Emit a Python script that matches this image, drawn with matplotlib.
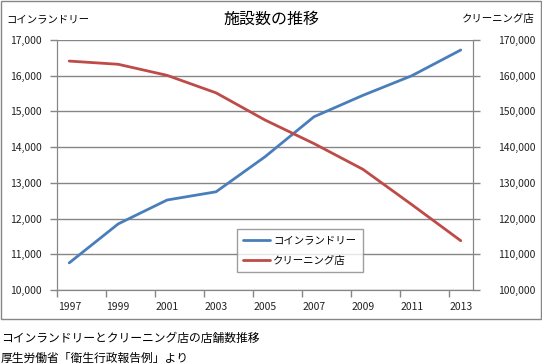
import matplotlib
matplotlib.use('Agg')
import matplotlib.ticker
from matplotlib import pyplot as plt
from matplotlib.patches import Rectangle

plt.rcParams['font.family'] = ['Noto Sans CJK JP', 'DejaVu Sans']

years = [1997, 1999, 2001, 2003, 2005, 2007, 2009, 2011, 2013]
coin_laundry = [10760, 11850, 12520, 12750, 13730, 14850, 15450, 16000, 16720]
cleaning = [164100, 163200, 160100, 155200, 147600, 141000, 133800, 123900, 113800]

title = '施設数の推移'
left_name = 'コインランドリー'
right_name = 'クリーニング店'
caption1 = 'コインランドリーとクリーニング店の店舗数推移'
caption2 = '厚生労働省「衛生行政報告例」より'

grid_color = '#868686'
blue = '#4A7EBB'
red = '#BE4B48'

fig = plt.figure(figsize=(5.42, 3.64), dpi=100)
ax1 = fig.add_axes([57 / 542, 1 - 290 / 364, (473 - 57) / 542, 250 / 364])
ax2 = ax1.twinx()

# chart frame
fig.patches.append(Rectangle((0.5 / 542, 1 - 319 / 364), 540.5 / 542, 318.5 / 364,
                             transform=fig.transFigure, fill=False, edgecolor=grid_color, lw=1))

l1, = ax1.plot(years, coin_laundry, color=blue, lw=2, solid_capstyle='round')
l2, = ax2.plot(years, cleaning, color=red, lw=2, solid_capstyle='round')

ax1.set_xlim(1996.5, 2013.5)
ax1.set_ylim(10000, 17000)
ax2.set_ylim(100000, 170000)

ax1.yaxis.set_major_locator(matplotlib.ticker.MultipleLocator(1000))
ax2.yaxis.set_major_locator(matplotlib.ticker.MultipleLocator(10000))
fmt = matplotlib.ticker.FuncFormatter(lambda v, _: f'{int(v):,}')
ax1.yaxis.set_major_formatter(fmt)
ax2.yaxis.set_major_formatter(fmt)

# tick marks between years, labels on the years
ax1.xaxis.set_major_locator(matplotlib.ticker.FixedLocator([y - 0.5 for y in years]))
ax1.xaxis.set_major_formatter(matplotlib.ticker.NullFormatter())
ax1.xaxis.set_minor_locator(matplotlib.ticker.FixedLocator(years))
ax1.xaxis.set_minor_formatter(matplotlib.ticker.FixedFormatter([str(y) for y in years]))

ax1.grid(axis='y', color=grid_color, lw=1)
ax1.set_axisbelow(True)

for ax in (ax1, ax2):
	ax.spines['top'].set_visible(False)
	for s in ('left', 'right', 'bottom'):
		ax.spines[s].set_color(grid_color)
	ax.tick_params(axis='y', colors=grid_color, labelcolor='#222222', labelsize=7.5,
	               length=5, direction='out', width=1)

ax1.tick_params(axis='x', which='major', colors=grid_color, length=5, width=1, direction='out')
ax1.tick_params(axis='x', which='minor', length=0, pad=9, labelsize=7.5, labelcolor='#222222')
ax1.tick_params(axis='y', pad=6)
ax2.tick_params(axis='y', pad=13)

ax2.set_zorder(ax1.get_zorder() + 1)

fig.text(271 / 542, 1 - 19 / 364, title, ha='center', va='center', fontsize=11.5)
fig.text(6 / 542, 1 - 19 / 364, left_name, ha='left', va='center', fontsize=7.5)
fig.text(535 / 542, 1 - 19 / 364, right_name, ha='right', va='center', fontsize=7.5)
fig.text(1 / 542, 1 - 338 / 364, caption1, ha='left', va='center', fontsize=8.5)
fig.text(1 / 542, 1 - 358 / 364, caption2, ha='left', va='center', fontsize=8.5)

leg = ax2.legend(
	[l1, l2], [left_name, right_name], loc='upper left',
	bbox_to_anchor=(237 / 542, 1 - 229 / 364), bbox_transform=fig.transFigure,
	borderaxespad=0, fontsize=7.5, frameon=True, fancybox=False, edgecolor=grid_color,
	handlelength=2.6, handletextpad=0.3, borderpad=0.6, labelspacing=1.0)
leg.get_frame().set_linewidth(1)

fig.savefig('out.png', dpi=100)
